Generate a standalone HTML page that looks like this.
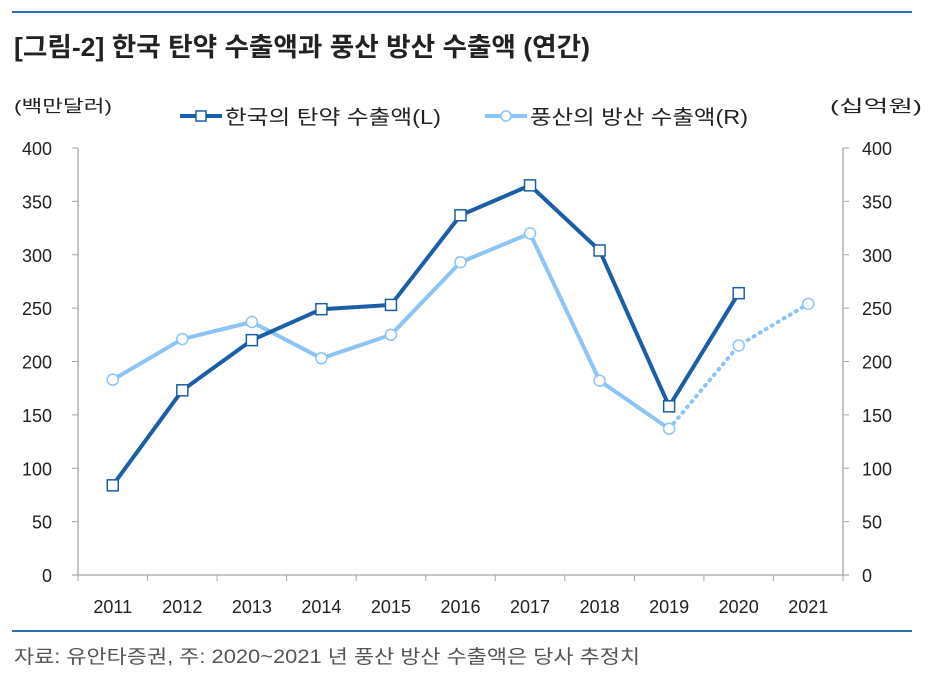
<!DOCTYPE html>
<html><head><meta charset="utf-8"><style>
body{margin:0;background:#fff;}
svg text{font-family:"Liberation Sans","Noto Sans CJK KR",sans-serif;}
</style></head><body>
<svg width="936" height="674" viewBox="0 0 936 674" id="chart">
<line x1="12" y1="12" x2="912" y2="12" stroke="#2f6fb5" stroke-width="2"/>
<text x="14" y="56" font-size="26" font-weight="bold" fill="#222" textLength="576" lengthAdjust="spacingAndGlyphs">[그림-2] 한국 탄약 수출액과 풍산 방산 수출액 (연간)</text>
<text x="14" y="112" font-size="17" fill="#222" textLength="98" lengthAdjust="spacingAndGlyphs">(백만달러)</text>
<text x="830" y="112" font-size="17" fill="#222" textLength="92" lengthAdjust="spacingAndGlyphs">(십억원)</text>
<g>
<g>
<line x1="180" y1="116" x2="222" y2="116" stroke="#1a5ea8" stroke-width="4"/>
<rect x="196" y="111" width="10" height="10" fill="#fff" stroke="#1a5ea8" stroke-width="1.5"/>
<text x="225" y="124" font-size="20" fill="#222" textLength="216" lengthAdjust="spacingAndGlyphs">한국의 탄약 수출액(L)</text></g>
<g>
<line x1="485" y1="116" x2="527" y2="116" stroke="#8cc4f5" stroke-width="4"/>
<circle cx="506" cy="116" r="5" fill="#fff" stroke="#8cc4f5" stroke-width="1.5"/>
<text x="530" y="124" font-size="20" fill="#222" textLength="218" lengthAdjust="spacingAndGlyphs">풍산의 방산 수출액(R)</text></g>
</g>
<g id="axes"></g>
<g id="marks"></g>
<line x1="12" y1="631" x2="912" y2="631" stroke="#2f6fb5" stroke-width="2"/>
<text x="14" y="663" font-size="19" fill="#555" textLength="626" lengthAdjust="spacingAndGlyphs">자료: 유안타증권, 주: 2020~2021 년 풍산 방산 수출액은 당사 추정치</text>
</svg>
<script>
const categories=["2011","2012","2013","2014","2015","2016","2017","2018","2019","2020","2021"];
const koreaValues=[84,173,220,249,253,337,365,304,158,264];
const poongsanValues=[183,221,237,203,225,293,320,182,137,215,254];
const poongsanEstimateStart=8;
const yTicks=[0,50,100,150,200,250,300,350,400];
const NS="http://www.w3.org/2000/svg";
const L=78,R=843,T=148,B=575,yMax=400;
const band=(R-L)/categories.length;
const x=i=>L+band*(i+0.5);
const y=v=>B-(v/yMax)*(B-T);
function mk(tag,attrs,parent){const e=document.createElementNS(NS,tag);for(const k in attrs)e.setAttribute(k,attrs[k]);parent.appendChild(e);return e;}
const ax=document.getElementById('axes'),mg=document.getElementById('marks');
const g="#a6a6a6";
let e;
e=mk('line',{x1:L,y1:T,x2:L,y2:B,stroke:g,'stroke-width':1.3},ax);


e=mk('line',{x1:R,y1:T,x2:R,y2:B,stroke:g,'stroke-width':1.3},ax);


e=mk('line',{x1:L-6,y1:B,x2:R+6,y2:B,stroke:g,'stroke-width':1.3},ax);


yTicks.forEach(v=>{
 mk('line',{x1:L-6,y1:y(v),x2:L,y2:y(v),stroke:g},ax);
 mk('line',{x1:R,y1:y(v),x2:R+6,y2:y(v),stroke:g},ax);
 e=mk('text',{x:52,y:y(v)+7,'font-size':18,fill:'#222','text-anchor':'end'},ax);e.textContent=v;
 
 
 e=mk('text',{x:862,y:y(v)+7,'font-size':18,fill:'#222'},ax);e.textContent=v;
 
 
});
for(let i=0;i<=categories.length;i++){mk('line',{x1:L+band*i,y1:B,x2:L+band*i,y2:B+6,stroke:g},ax);}
categories.forEach((c,i)=>{e=mk('text',{x:x(i),y:613,'font-size':18,fill:'#222','text-anchor':'middle'},ax);e.textContent=c;
 
 });
const pts=(arr,a,b)=>arr.slice(a,b).map((v,j)=>x(a+j)+','+y(v)).join(' ');
e=mk('polyline',{points:pts(poongsanValues,0,poongsanEstimateStart+1),fill:'none',stroke:'#8cc4f5','stroke-width':4,'stroke-linejoin':'round'},mg);


e=mk('polyline',{points:pts(poongsanValues,poongsanEstimateStart,poongsanValues.length),fill:'none',stroke:'#8cc4f5','stroke-width':4,'stroke-dasharray':'1 6','stroke-linecap':'round'},mg);


e=mk('polyline',{points:pts(koreaValues,0,koreaValues.length),fill:'none',stroke:'#1a5ea8','stroke-width':4,'stroke-linejoin':'round'},mg);


poongsanValues.forEach((v,i)=>{e=mk('circle',{cx:x(i),cy:y(v),r:5.5,fill:'#fff',stroke:'#8cc4f5','stroke-width':1.5},mg);
 
 });
koreaValues.forEach((v,i)=>{e=mk('rect',{x:x(i)-5.5,y:y(v)-5.5,width:11,height:11,fill:'#fff',stroke:'#1a5ea8','stroke-width':1.5},mg);
 
 });
</script>
</body></html>
